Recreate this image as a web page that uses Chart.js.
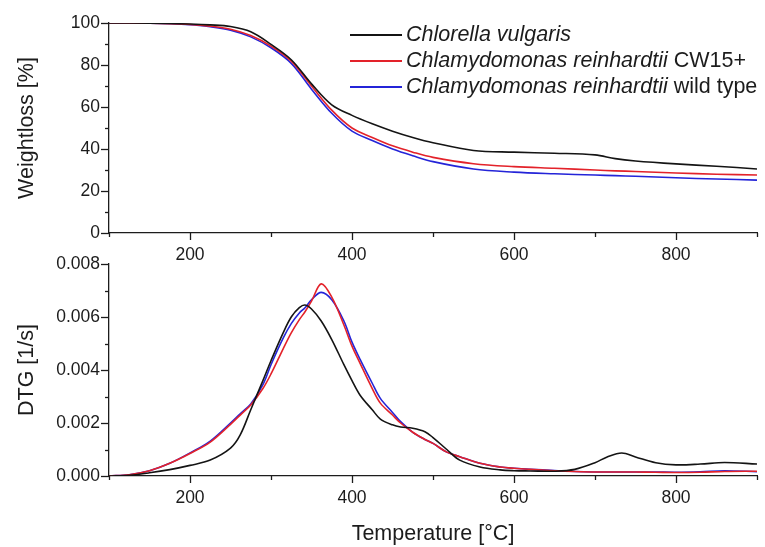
<!DOCTYPE html>
<html lang="en">
<head>
<meta charset="UTF-8">
<title>TGA / DTG - microalgae</title>
<script src="https://cdn.jsdelivr.net/npm/chart.js"></script>
<style>
  html, body { margin: 0; background: #fff; overflow: hidden; }
  .painel { position: absolute; left: 0; width: 765px; }
  .painel canvas { display: block; }
  #topo { top: 0; height: 266px; }
  #baixo { top: 240px; height: 307px; }
</style>
</head>
<body>
<div class="painel" id="topo"><canvas id="tga"></canvas></div>
<div class="painel" id="baixo"><canvas id="dtg"></canvas></div>

<script>
// weight curves (TGA), %
var weightTemps = [100, 150, 200, 225, 250, 275, 300, 325, 350, 375, 400, 425, 450, 475, 500, 550, 600, 650, 700, 725, 750, 800, 850, 900];
var chlorellaWeight = [100, 99.9, 99.5, 99.1, 98.3, 95.8, 89.8, 82.5, 71, 61, 56, 52, 48.5, 45.5, 43, 39.3, 38.5, 38, 37.2, 35.4, 34.3, 32.9, 31.8, 30.5];
var cw15Weight = [100, 99.9, 99.3, 98.5, 97, 94, 89, 81.8, 70, 58.5, 50, 45.5, 41.5, 38.5, 36, 33, 31.6, 30.8, 30, 29.6, 29.3, 28.6, 28, 27.6];
var wildWeight = [100, 99.9, 99.2, 98.2, 96.6, 93.4, 88.2, 80.8, 68.5, 57, 48.5, 44, 40, 36.8, 34, 30.5, 29, 28.2, 27.6, 27.3, 27, 26.3, 25.7, 25.2];

// derivative curves (DTG), 1/s
var dtgTemps = [100, 125, 150, 175, 200, 225, 250, 262, 275, 290, 300, 315, 325, 335, 342, 350, 362, 375, 390, 400, 410, 425, 435, 450, 460, 475, 490, 500, 517, 533, 558, 583, 600, 620, 650, 675, 700, 715, 733, 750, 775, 800, 830, 860, 900];
var chlorellaDtg = [0, 0.00003, 0.00012, 0.00024, 0.0004, 0.0006, 0.00105, 0.00155, 0.0025, 0.0036, 0.00435, 0.0054, 0.006, 0.00635, 0.00645, 0.0063, 0.00585, 0.00515, 0.0042, 0.0036, 0.00305, 0.0025, 0.00215, 0.00193, 0.00185, 0.0018, 0.00167, 0.00145, 0.001, 0.0006, 0.00034, 0.00023, 0.0002, 0.00019, 0.00018, 0.00025, 0.0005, 0.00072, 0.00087, 0.00072, 0.0005, 0.00042, 0.00045, 0.00051, 0.00045];
var cw15Dtg = [0, 0.00005, 0.0002, 0.00048, 0.00085, 0.00128, 0.00195, 0.0023, 0.00268, 0.0033, 0.00385, 0.0048, 0.0054, 0.0059, 0.0062, 0.0066, 0.00725, 0.00675, 0.0057, 0.0049, 0.00425, 0.0033, 0.00275, 0.0023, 0.002, 0.00165, 0.00138, 0.00123, 0.0009, 0.00073, 0.00048, 0.00034, 0.00029, 0.00025, 0.0002, 0.00017, 0.00015, 0.00015, 0.00015, 0.00015, 0.00014, 0.00013, 0.00014, 0.00017, 0.00018];
var wildDtg = [0, 0.00005, 0.0002, 0.00048, 0.00087, 0.00132, 0.002, 0.00235, 0.00272, 0.00345, 0.0042, 0.0052, 0.00575, 0.00615, 0.00635, 0.00665, 0.00693, 0.00665, 0.00585, 0.00505, 0.0044, 0.0035, 0.00293, 0.0024, 0.00205, 0.00165, 0.00138, 0.00123, 0.0009, 0.00073, 0.00048, 0.00034, 0.00029, 0.00025, 0.00021, 0.00017, 0.00015, 0.00015, 0.00015, 0.00015, 0.00015, 0.00014, 0.00016, 0.0002, 0.00016];

// axis ticks
var xTicks = [100, 200, 300, 400, 500, 600, 700, 800, 900];
var xLabels = [200, 400, 600, 800];
var weightTicks = [0, 10, 20, 30, 40, 50, 60, 70, 80, 90, 100];
var weightLabels = [0, 20, 40, 60, 80, 100];
var dtgTicks = [0, 0.001, 0.002, 0.003, 0.004, 0.005, 0.006, 0.007, 0.008];
var dtgLabels = [0, 0.002, 0.004, 0.006, 0.008];

var legendItalic = ['Chlorella vulgaris', 'Chlamydomonas reinhardtii', 'Chlamydomonas reinhardtii'];
var legendPlain = ['', ' CW15+', ' wild type'];
var cores = ['#141414', '#e3222a', '#2424d8'];

var FONTE = '"Liberation Sans", Arial, sans-serif';
var TINTA = '#1c1c1c';

function pares(xs, ys) {
  return xs.map(function (x, i) { return { x: x, y: ys[i] }; });
}

function serie(xs, ys, cor) {
  return {
    data: pares(xs, ys),
    borderColor: cor,
    borderWidth: 1.6,
    pointRadius: 0,
    fill: false,
    tension: 0.35
  };
}

function mesmoValor(lista, v) {
  return lista.some(function (l) { return Math.abs(l - v) < 1e-9; });
}

// tick marks: long for labelled ticks, short for the rest
var marcas = {
  id: 'marcas',
  afterDraw: function (chart) {
    var c = chart.ctx, a = chart.chartArea;
    var sx = chart.scales.x, sy = chart.scales.y;
    var rotY = chart.options.plugins.marcas.labels;
    c.save();
    c.strokeStyle = TINTA;
    c.lineWidth = 1.3;
    sx.ticks.forEach(function (t) {
      var p = Math.round(sx.getPixelForValue(t.value)) + 0.5;
      var len = mesmoValor(xLabels, t.value) ? 7 : 4;
      c.beginPath(); c.moveTo(p, a.bottom); c.lineTo(p, a.bottom + len); c.stroke();
    });
    sy.ticks.forEach(function (t) {
      var p = Math.round(sy.getPixelForValue(t.value)) + 0.5;
      var len = mesmoValor(rotY, t.value) ? 8 : 4;
      c.beginPath(); c.moveTo(a.left, p); c.lineTo(a.left - len, p); c.stroke();
    });
    c.restore();
  }
};

// legend with italic species names
var legenda = {
  id: 'legenda',
  afterDraw: function (chart) {
    if (!chart.options.plugins.legenda.show) return;
    var c = chart.ctx;
    c.save();
    c.textBaseline = 'middle';
    c.fillStyle = TINTA;
    for (var i = 0; i < legendItalic.length; i++) {
      var y = 35 + i * 26;
      c.strokeStyle = cores[i];
      c.lineWidth = 1.8;
      c.beginPath(); c.moveTo(350, y); c.lineTo(402, y); c.stroke();
      c.font = 'italic 21.5px ' + FONTE;
      c.fillText(legendItalic[i], 406, y);
      var w = c.measureText(legendItalic[i]).width;
      c.font = '21.5px ' + FONTE;
      c.fillText(legendPlain[i], 406 + w, y);
    }
    c.restore();
  }
};

// tick padding also sets the right-hand gap, so the labels are pushed down with lineHeight
function eixoX(altura, titulo) {
  return {
    type: 'linear',
    min: 100,
    max: 900,
    afterBuildTicks: function (s) { s.ticks = xTicks.map(function (v) { return { value: v }; }); },
    afterFit: function (s) { s.height = altura; },
    grid: { display: false, drawTicks: false },
    border: { display: true, color: TINTA, width: 1.3 },
    ticks: {
      padding: 8,
      color: TINTA,
      autoSkip: false,
      maxRotation: 0,
      font: { family: FONTE, size: 17.5, lineHeight: 1.6 },
      callback: function (v) { return mesmoValor(xLabels, v) ? String(v) : ''; }
    },
    title: {
      display: !!titulo,
      text: titulo || '',
      color: TINTA,
      font: { family: FONTE, size: 21.5 },
      padding: { top: 2, bottom: 0 }
    }
  };
}

function eixoY(min, max, marcasY, rotulos, formato, titulo) {
  return {
    type: 'linear',
    min: min,
    max: max,
    afterBuildTicks: function (s) { s.ticks = marcasY.map(function (v) { return { value: v }; }); },
    afterFit: function (s) { s.width = 109; },
    grid: { display: false, drawTicks: false },
    border: { display: true, color: TINTA, width: 1.3 },
    ticks: {
      padding: 9,
      color: TINTA,
      autoSkip: false,
      font: { family: FONTE, size: 17.5 },
      callback: function (v) { return mesmoValor(rotulos, v) ? formato(v) : ''; }
    },
    title: {
      display: true,
      text: titulo,
      color: TINTA,
      font: { family: FONTE, size: 21.5 },
      padding: { top: 14, bottom: 0 }
    }
  };
}

var base = {
  responsive: true,
  maintainAspectRatio: false,
  animation: false,
  events: []
};

new Chart(document.getElementById('tga'), {
  type: 'line',
  data: {
    datasets: [
      serie(weightTemps, chlorellaWeight, cores[0]),
      serie(weightTemps, cw15Weight, cores[1]),
      serie(weightTemps, wildWeight, cores[2])
    ]
  },
  options: Object.assign({}, base, {
    layout: { padding: { top: 23, right: 8, left: 0, bottom: 0 } },
    scales: {
      x: eixoX(33, null),
      y: eixoY(0, 100, weightTicks, weightLabels, function (v) { return String(v); }, 'Weightloss [%]')
    },
    plugins: {
      legend: { display: false },
      tooltip: { enabled: false },
      marcas: { labels: weightLabels },
      legenda: { show: true }
    }
  }),
  plugins: [marcas, legenda]
});

new Chart(document.getElementById('dtg'), {
  type: 'line',
  data: {
    datasets: [
      serie(dtgTemps, chlorellaDtg, cores[0]),
      serie(dtgTemps, cw15Dtg, cores[1]),
      serie(dtgTemps, wildDtg, cores[2])
    ]
  },
  options: Object.assign({}, base, {
    layout: { padding: { top: 24, right: 8, left: 0, bottom: 0 } },
    scales: {
      x: eixoX(71, 'Temperature [°C]'),
      y: eixoY(0, 0.008, dtgTicks, dtgLabels, function (v) { return v.toFixed(3); }, 'DTG [1/s]')
    },
    plugins: {
      legend: { display: false },
      tooltip: { enabled: false },
      marcas: { labels: dtgLabels },
      legenda: { show: false }
    }
  }),
  plugins: [marcas, legenda]
});
</script>
</body>
</html>
